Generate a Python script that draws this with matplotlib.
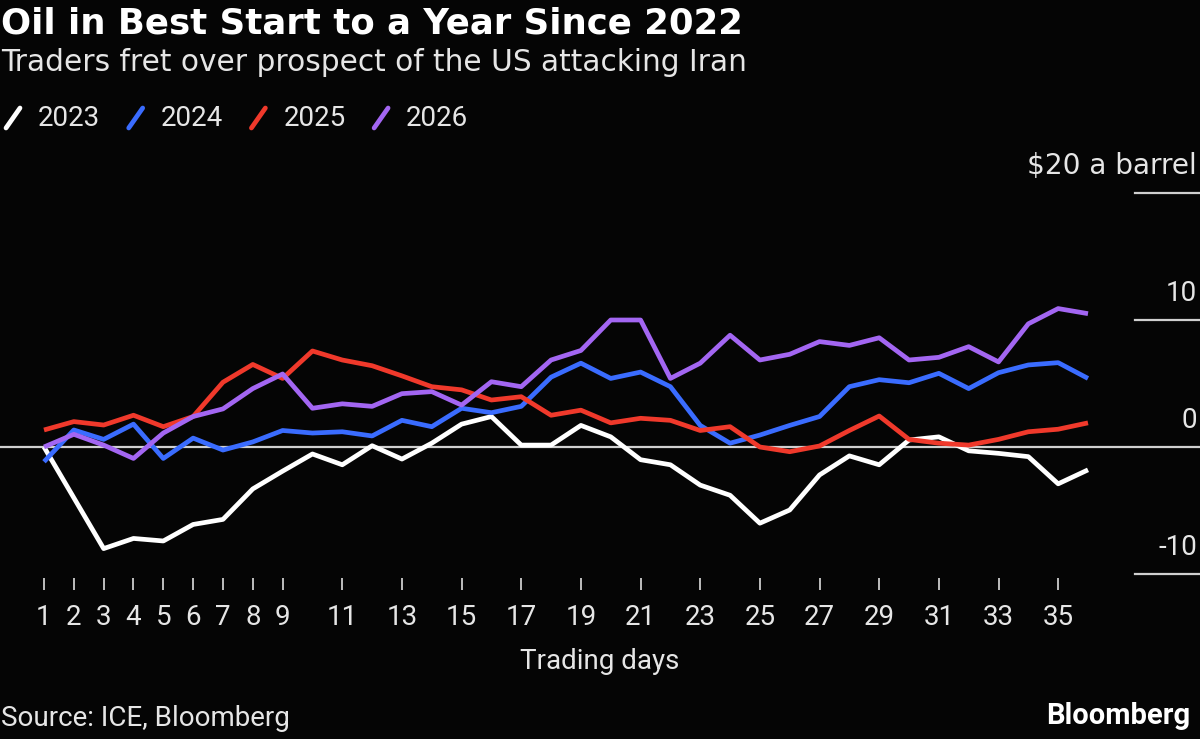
import matplotlib
matplotlib.use("Agg")
import matplotlib.pyplot as plt
from matplotlib.lines import Line2D
from matplotlib.transforms import blended_transform_factory

# ---------------- data ----------------
days = list(range(1, 37))
series_names = ["2023", "2024", "2025", "2026"]
y2023 = [0, -4.0, -8.0, -7.2, -7.4, -6.1, -5.7, -3.3, -1.9, -0.55, -1.4, 0.1,
         -0.95, 0.3, 1.8, 2.4, 0.15, 0.15, 1.7, 0.8, -1.0, -1.4, -3.0, -3.8,
         -6.0, -4.96, -2.2, -0.7, -1.4, 0.55, 0.8, -0.3, -0.5, -0.76, -2.9, -1.8]
y2024 = [-1.16, 1.34, 0.6, 1.8, -0.9, 0.7, -0.24, 0.4, 1.3, 1.1, 1.2, 0.87,
         2.1, 1.6, 3.05, 2.7, 3.2, 5.5, 6.6, 5.4, 5.9, 4.75, 1.7, 0.3,
         0.94, 1.7, 2.4, 4.75, 5.3, 5.06, 5.8, 4.6, 5.85, 6.46, 6.64, 5.4]
y2025 = [1.34, 2.0, 1.73, 2.5, 1.6, 2.4, 5.1, 6.5, 5.4, 7.56, 6.85, 6.4,
         5.6, 4.75, 4.5, 3.7, 3.96, 2.5, 2.9, 1.9, 2.26, 2.1, 1.3, 1.6,
         0.0, -0.37, 0.08, 1.3, 2.44, 0.6, 0.3, 0.15, 0.6, 1.2, 1.4, 1.9]
y2026 = [0, 1.0, 0.15, -0.9, 1.1, 2.4, 3.0, 4.6, 5.75, 3.05, 3.4, 3.2,
         4.2, 4.36, 3.3, 5.14, 4.75, 6.85, 7.6, 10.0, 10.0, 5.4, 6.6, 8.8,
         6.85, 7.3, 8.3, 8.0, 8.6, 6.85, 7.06, 7.9, 6.7, 9.7, 10.9, 10.5]
series_values = [y2023, y2024, y2025, y2026]
x_ticks = [1, 2, 3, 4, 5, 6, 7, 8, 9, 11, 13, 15, 17, 19, 21, 23, 25, 27, 29, 31, 33, 35]
y_ticks = [-10, 0, 10, 20]
y_tick_labels = ["-10", "0", "10", "$20 a barrel"]

# ---------------- style ----------------
BG = "#050505"
TXT = "#e6e6e6"
colors = ["#ffffff", "#3a6cff", "#f0392b", "#a366f2"]
FONT = "Roboto"
WIDE = "DejaVu Sans"
W, H = 1200, 739

plt.rcParams["font.family"] = [FONT, "DejaVu Sans"]

fig = plt.figure(figsize=(W / 100, H / 100), dpi=100, facecolor=BG)
renderer = fig.canvas.get_renderer()

def fx(px):
    return px / W

def fy(py):
    return 1 - py / H

def fit_width(t, target_px):
    for _ in range(2):
        bb = t.get_window_extent(renderer)
        if bb.width > 0:
            t.set_fontsize(t.get_fontsize() * target_px / bb.width)

ax_top, ax_bot = 180, 578
ax = fig.add_axes([0, fy(ax_bot), 1, (ax_bot - ax_top) / H], facecolor=BG)
ppd = (1088 - 44) / 35.0
ax.set_xlim(1 - 44 / ppd, 36 + (W - 1088) / ppd)
ppu = 12.7
ax.set_ylim((447 - ax_bot) / ppu, (447 - ax_top) / ppu)

for s in ax.spines.values():
    s.set_visible(False)

ax.axhline(0, color="#d0d0d0", lw=1.6, zorder=1)
trans = blended_transform_factory(ax.transAxes, ax.transData)
for v, lab in zip(y_ticks, y_tick_labels):
    if v != 0:
        ax.plot([1135 / W, 1.0], [v, v], transform=trans, color="#d0d0d0",
                lw=1.6, clip_on=False, zorder=1)
    t = ax.annotate(lab, xy=(1.0, v), xycoords=trans, xytext=(-3, 13),
                    textcoords="offset pixels", ha="right", va="bottom",
                    color=TXT, fontsize=20, annotation_clip=False)
    if v == 20:
        t.set_fontfamily(WIDE)
        fit_width(t, 170)

for vals, c in zip(series_values, colors):
    ax.plot(days, vals, color=c, lw=3.4, solid_joinstyle="round",
            solid_capstyle="butt", zorder=3)

ax.set_yticks([])
ax.set_xticks(x_ticks)
ax.set_xticklabels([str(t) for t in x_ticks])
ax.tick_params(axis="x", direction="out", length=12 * 0.72, width=1.3,
               color="#cccccc", labelcolor=TXT, labelsize=20, pad=10)
ax.set_xlabel("Trading days", color=TXT, fontsize=20, labelpad=12)

# titles
tt = fig.text(fx(1), fy(6), "Oil in Best Start to a Year Since 2022", color="#ffffff",
              fontsize=22, fontweight="bold", ha="left", va="top", family=WIDE)
fit_width(tt, 741)
st = fig.text(fx(1), fy(48), "Traders fret over prospect of the US attacking Iran",
              color=TXT, fontsize=19, ha="left", va="top", family=WIDE)
fit_width(st, 744)

# legend
for i, (name, c) in enumerate(zip(series_names, colors)):
    x0 = 6 + i * 122.7
    fig.add_artist(Line2D([fx(x0), fx(x0 + 14)], [fy(128), fy(108)], color=c,
                          lw=3.4, solid_capstyle="round"))
    fig.text(fx(x0 + 32), fy(118), name, color=TXT, fontsize=20,
             ha="left", va="center")

# footer
fig.text(fx(1), fy(718), "Source: ICE, Bloomberg", color=TXT, fontsize=20,
         ha="left", va="center")
fig.text(fx(1190), fy(716), "Bloomberg", color="#ffffff", fontsize=21,
         fontweight="bold", ha="right", va="center")

fig.savefig("out.png", dpi=100, facecolor=BG)
